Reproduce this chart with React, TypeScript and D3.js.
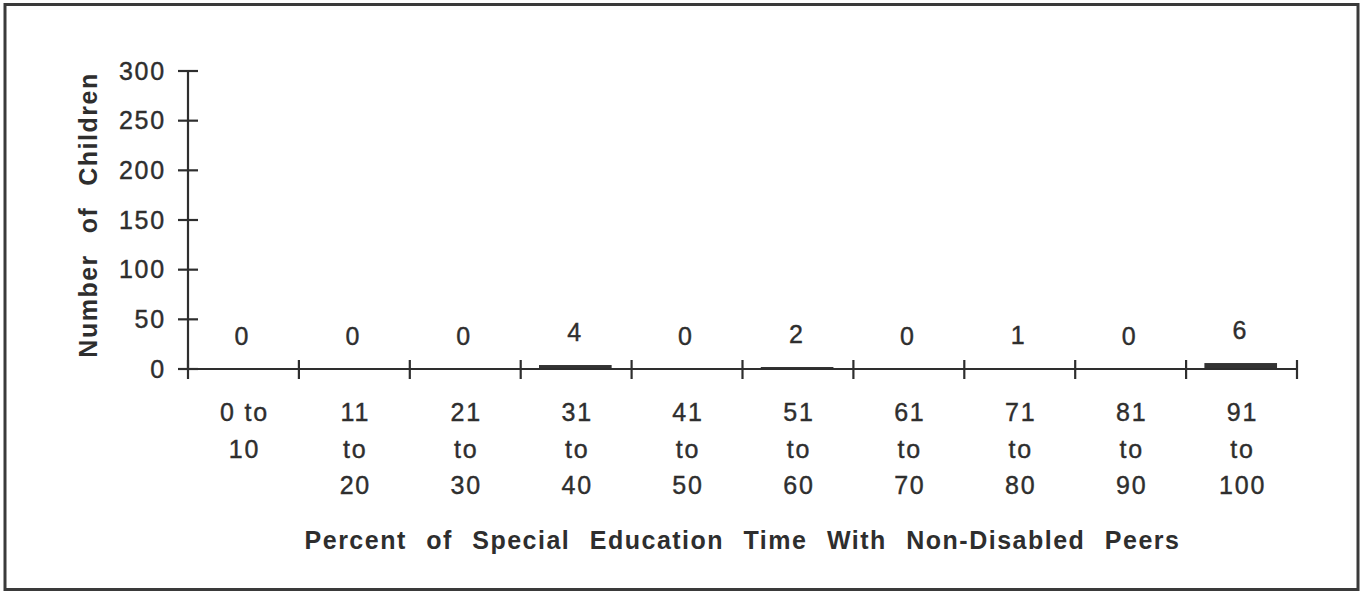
import React from "react";
import * as d3 from "d3";

const categories = ["0-10", "11-20", "21-30", "31-40", "41-50", "51-60", "61-70", "71-80", "81-90", "91-100"];
const categoryLines: string[][] = [
  ["0 to", "10"],
  ["11", "to", "20"],
  ["21", "to", "30"],
  ["31", "to", "40"],
  ["41", "to", "50"],
  ["51", "to", "60"],
  ["61", "to", "70"],
  ["71", "to", "80"],
  ["81", "to", "90"],
  ["91", "to", "100"],
];
const values = [0, 0, 0, 4, 0, 2, 0, 1, 0, 6];
const yTicks = [0, 50, 100, 150, 200, 250, 300];
const xTitle = "Percent of Special Education Time With Non-Disabled Peers";
const yTitle = "Number of Children";

const W = 1361;
const H = 592;
const left = 188;
const right = 1297;
const top = 71;
const bottom = 369;
const ink = "#2e2e2e";
const font = "'Liberation Sans', Arial, Helvetica, sans-serif";
const fs = 25;

export default function App() {
  const x = d3.scaleBand<string>().domain(categories).range([left, right]).padding(0);
  const y = d3.scaleLinear().domain([0, 300]).range([bottom, top]);
  const bw = x.bandwidth();
  const boundaries = categories.map((c) => x(c)!).concat([right]);

  return (
    <svg width={W} height={H} style={{ position: "absolute", left: 0, top: 0, background: "#fff" }}>
      <rect x={5} y={4.5} width={1353} height={585} fill="none" stroke="#3a3a3a" strokeWidth={3} />
      {/* bars */}
      {categories.map((c, i) =>
        values[i] > 0 ? (
          <rect
            key={c}
            x={x(c)! + bw * 0.165}
            y={y(values[i])}
            width={bw * 0.655}
            height={y(0) - y(values[i])}
            fill="#333"
          />
        ) : null
      )}
      {/* y axis */}
      <line x1={left} x2={left} y1={y(300)} y2={y(0)} stroke={ink} strokeWidth={2.2} />
      {yTicks.map((t) => (
        <g key={t}>
          <line x1={left - 10} x2={left + 10} y1={y(t)} y2={y(t)} stroke={ink} strokeWidth={2.2} />
          <text
            x={left - 22}
            y={y(t) + 8.5}
            textAnchor="end"
            fontFamily={font}
            fontSize={fs}
            letterSpacing={1.8}
            fill={ink}
            stroke={ink}
            strokeWidth={0.4}
          >
            {t}
          </text>
        </g>
      ))}
      {/* x axis */}
      <line x1={left - 10} x2={right} y1={y(0)} y2={y(0)} stroke={ink} strokeWidth={2.2} />
      {boundaries.map((b, i) => (
        <line key={i} x1={b} x2={b} y1={y(0) - 9} y2={y(0) + 10} stroke={ink} strokeWidth={2.2} />
      ))}
      {/* value labels */}
      {categories.map((c, i) => (
        <text
          key={c}
          x={x(c)! + bw / 2 - 2}
          y={y(values[i]) - 24}
          textAnchor="middle"
          fontFamily={font}
          fontSize={fs}
          fill={ink}
          stroke={ink}
          strokeWidth={0.4}
        >
          {values[i]}
        </text>
      ))}
      {/* category labels */}
      {categories.map((c, i) => (
        <text
          key={c}
          textAnchor="middle"
          fontFamily={font}
          fontSize={fs}
          letterSpacing={1.8}
          fill={ink}
          stroke={ink}
          strokeWidth={0.4}
        >
          {categoryLines[i].map((l, j) => (
            <tspan key={j} x={x(c)! + bw / 2 + 1} y={421 + j * 36.5}>
              {l}
            </tspan>
          ))}
        </text>
      ))}
      {/* axis titles */}
      <text
        x={(left + right) / 2}
        y={549}
        textAnchor="middle"
        fontFamily={font}
        fontSize={fs}
        fontWeight="bold"
        letterSpacing={1.5}
        wordSpacing={11}
        fill={ink}
      >
        {xTitle}
      </text>
      <text
        transform={`translate(97, ${(top + bottom) / 2 - 5}) rotate(-90)`}
        textAnchor="middle"
        fontFamily={font}
        fontSize={fs}
        fontWeight="bold"
        letterSpacing={1.5}
        wordSpacing={12.5}
        fill={ink}
      >
        {yTitle}
      </text>
    </svg>
  );
}
